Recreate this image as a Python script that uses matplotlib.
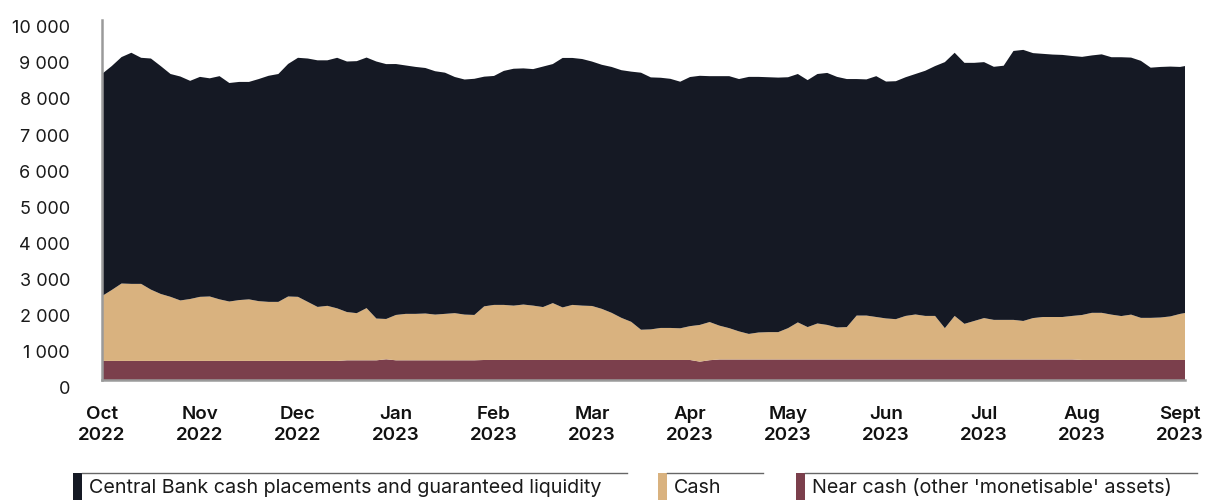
import numpy as np
import matplotlib
matplotlib.use("Agg")
import matplotlib.pyplot as plt
import matplotlib.transforms as mtransforms
from matplotlib.patches import Rectangle
from matplotlib.lines import Line2D
from matplotlib.ticker import FuncFormatter

plt.rcParams["font.family"] = ["Inter", "DejaVu Sans"]

# month labels (equal spacing), data sampled every 1/10 month from Oct 2022
months = ["Oct\n2022", "Nov\n2022", "Dec\n2022", "Jan\n2023", "Feb\n2023", "Mar\n2023",
          "Apr\n2023", "May\n2023", "Jun\n2023", "Jul\n2023", "Aug\n2023", "Sept\n2023"]
steps_per_month = 10

near_cash = ([530] * 25 + [547] * 4 + [575] + [547] * 9 + [556] * 22 + [510, 550]
             + [570] * 37 + [556] * 12)

cash = [1800, 1970, 2150, 2140, 2140, 1980, 1860, 1780, 1680, 1720,
        1780, 1790, 1710, 1650, 1690, 1710, 1660, 1640, 1640, 1790,
        1780, 1640, 1500, 1530, 1460, 1340, 1310, 1450, 1160, 1120,
        1260, 1290, 1290, 1300, 1270, 1290, 1310, 1270, 1260, 1490,
        1530, 1530, 1510, 1540, 1510, 1470, 1580, 1460, 1530, 1510,
        1500, 1420, 1310, 1170, 1060, 840, 850, 890, 890, 880,
        940, 1020, 1060, 940, 870, 780, 710, 750, 760, 760,
        870, 1030, 900, 1000, 960, 890, 900, 1220, 1220, 1180,
        1140, 1120, 1210, 1250, 1210, 1210, 870, 1210, 990, 1070,
        1150, 1100, 1100, 1100, 1070, 1150, 1180, 1180, 1180, 1210,
        1250, 1310, 1310, 1260, 1220, 1260, 1170, 1170, 1180, 1210,
        1280, 1330]

central_bank = [6170, 6220, 6290, 6420, 6280, 6420, 6330, 6190, 6220, 6060,
                6110, 6060, 6200, 6070, 6060, 6040, 6170, 6280, 6330, 6460,
                6640, 6760, 6850, 6820, 6960, 6960, 7000, 6960, 7140, 7080,
                6970, 6900, 6860, 6820, 6760, 6700, 6560, 6530, 6560, 6380,
                6360, 6500, 6580, 6560, 6570, 6680, 6640, 6930, 6860, 6850,
                6790, 6780, 6830, 6880, 6950, 7140, 7000, 6950, 6920, 6850,
                6920, 6920, 6830, 6930, 7000, 7010, 7140, 7100, 7080, 7070,
                6970, 6900, 6860, 6930, 7000, 6960, 6890, 6570, 6560, 6690,
                6580, 6610, 6630, 6680, 6810, 6940, 7390, 7310, 7250, 7170,
                7110, 7030, 7060, 7470, 7530, 7360, 7310, 7290, 7280, 7220,
                7170, 7150, 7180, 7150, 7190, 7140, 7140, 6950, 6960, 6940,
                6860, 6860]

series_names = ["Central Bank cash placements and guaranteed liquidity", "Cash",
                "Near cash (other 'monetisable' assets)"]
colors = ["#151924", "#d9b27f", "#7b3f4c"]

x = np.arange(len(cash)) / steps_per_month

fig = plt.figure(figsize=(12.05, 5.0), dpi=100)
ax = fig.add_axes([0.0846, 0.24, 0.8988, 0.72])

ax.stackplot(x, near_cash, cash, central_bank,
             colors=[colors[2], colors[1], colors[0]], linewidth=0)

ax.set_xlim(0, 11.05)
ax.set_ylim(0, 10000)
ax.set_yticks(np.arange(0, 10001, 1000))
ax.yaxis.set_major_formatter(FuncFormatter(lambda v, p: f"{int(v):,}".replace(",", " ")))
ax.set_xticks(np.arange(len(months)))
ax.set_xticklabels(months, fontsize=13.5, fontweight="semibold", color="#111111",
                   linespacing=1.3)
ax.tick_params(axis="x", length=0, pad=19)
ax.tick_params(axis="y", length=0, pad=23, labelsize=13, labelcolor="#1a1a1a")

# y labels sit a little below their gridline in the original
shift = mtransforms.ScaledTranslation(0, -7 / 100, fig.dpi_scale_trans)
for lbl in ax.get_yticklabels():
    lbl.set_transform(lbl.get_transform() + shift)

for s in ["top", "right"]:
    ax.spines[s].set_visible(False)
for s in ["left", "bottom"]:
    ax.spines[s].set_color("#9a9a9a")
    ax.spines[s].set_linewidth(1.8)

# legend: colour bar + rule on top + label
W, H = 1205, 500
legend_boxes = [(73, 627), (658, 763), (796, 1197)]
for (x0, x1), name, col in zip(legend_boxes, series_names, colors):
    fig.add_artist(Rectangle((x0 / W, 0), 9 / W, 27 / H, transform=fig.transFigure,
                             facecolor=col, edgecolor="none"))
    fig.add_artist(Line2D([(x0 + 9) / W, x1 / W], [1 - 473 / H] * 2, transform=fig.transFigure,
                          color="#666666", linewidth=1))
    fig.text((x0 + 16) / W, 1 - 488 / H, name, fontsize=14.2, va="center", ha="left",
             color="#1a1a1a")

fig.savefig("out.png", dpi=100)
